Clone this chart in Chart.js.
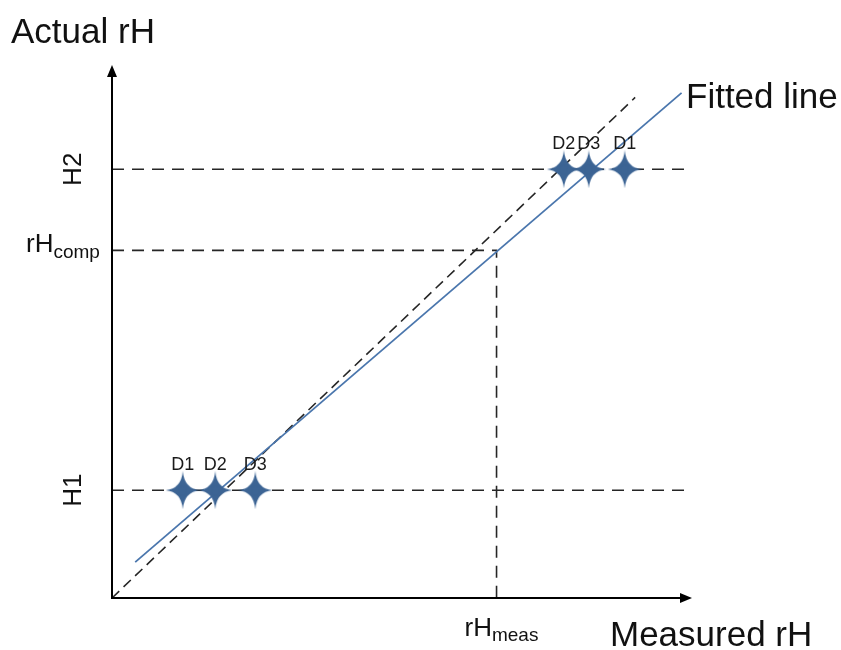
<!DOCTYPE html>
<html>
<head>
<meta charset="utf-8">
<script src="https://cdn.jsdelivr.net/npm/chart.js@4.4.1/dist/chart.umd.min.js"></script>
<style>
  html, body { margin: 0; padding: 0; background: #fff; }
  #wrap { width: 841px; height: 650px; }
</style>
</head>
<body>
<div id="wrap"><canvas id="rhChart" width="841" height="650"></canvas></div>
<script>
// ── Values (arbitrary rH units) ───────────────────────────────────────
const X_MAX = 100, Y_MAX = 92;
const H1 = 18.6, H2 = 74;
const RH_COMP = 60, RH_MEAS = 66.3;

const idealX = [0, 90.2];
const idealY = [0, 86.4];
const fitX = [4.0, 98.2];
const fitY = [6.2, 87.2];

const pointLabels = ['D1', 'D2', 'D3'];
const measuredAtH2 = [88.4, 77.9, 82.2];
const measuredAtH1 = [12.2, 17.8, 24.7];

const FONT = '"Liberation Sans", Arial, Helvetica, sans-serif';
const BLUE = '#4a76ad';
const STAR = '#3c6494';
const DASH = '#262626';

const pts = (xs, ys) => xs.map((x, i) => ({ x, y: ys[i] }));

// 4-point concave star used as the marker image
function makeStar(w, h, color) {
  const c = document.createElement('canvas');
  c.width = w; c.height = h;
  const g = c.getContext('2d');
  const cx = w / 2, cy = h / 2, k = 1.6;
  g.fillStyle = color;
  g.beginPath();
  g.moveTo(cx, 0);
  g.quadraticCurveTo(cx + k, cy - k, w, cy);
  g.quadraticCurveTo(cx + k, cy + k, cx, h);
  g.quadraticCurveTo(cx - k, cy + k, 0, cy);
  g.quadraticCurveTo(cx - k, cy - k, cx, 0);
  g.closePath();
  g.fill();
  // small soft body in the middle
  g.beginPath();
  g.ellipse(cx, cy, 4, 4.5, 0, 0, Math.PI * 2);
  g.fill();
  return c;
}
const starImg = makeStar(34, 38, STAR);

// ── Axes with arrows + all annotations ───────────────────────────────
const annotate = {
  id: 'annotate',
  afterDatasetsDraw(chart) {
    const { ctx, scales: { x, y } } = chart;
    const x0 = x.getPixelForValue(0), y0 = y.getPixelForValue(0);
    const xe = x.getPixelForValue(X_MAX), ye = y.getPixelForValue(Y_MAX);
    ctx.save();
    ctx.strokeStyle = '#000';
    ctx.fillStyle = '#000';
    ctx.lineWidth = 2;
    ctx.setLineDash([]);
    ctx.beginPath();
    ctx.moveTo(x0, ye + 8); ctx.lineTo(x0, y0); ctx.lineTo(xe - 8, y0);
    ctx.stroke();
    // arrow heads
    ctx.beginPath();
    ctx.moveTo(x0, ye); ctx.lineTo(x0 - 5, ye + 12); ctx.lineTo(x0 + 5, ye + 12); ctx.closePath();
    ctx.fill();
    ctx.beginPath();
    ctx.moveTo(xe, y0); ctx.lineTo(xe - 12, y0 - 5); ctx.lineTo(xe - 12, y0 + 5); ctx.closePath();
    ctx.fill();

    // point labels
    ctx.fillStyle = '#1a1a1a';
    ctx.font = '18px ' + FONT;
    ctx.textAlign = 'center';
    ctx.textBaseline = 'alphabetic';
    [0, 1].forEach(di => {
      chart.getDatasetMeta(di).data.forEach((p, i) => {
        ctx.fillText(pointLabels[i], p.x, p.y - 20);
      });
    });

    // axis titles
    ctx.fillStyle = '#111';
    ctx.textAlign = 'left';
    ctx.font = '35px ' + FONT;
    ctx.fillText('Actual rH', 11, 43);
    ctx.fillText('Measured rH', 610, 646);
    ctx.fillText('Fitted line', 686, 108);

    // H1 / H2 (rotated)
    ctx.font = '26px ' + FONT;
    ctx.textAlign = 'center';
    ctx.textBaseline = 'middle';
    [['H2', H2], ['H1', H1]].forEach(([t, v]) => {
      ctx.save();
      ctx.translate(74, y.getPixelForValue(v));
      ctx.rotate(-Math.PI / 2);
      ctx.fillText(t, 0, 0);
      ctx.restore();
    });

    // rH_comp / rH_meas with subscripts
    ctx.textAlign = 'left';
    ctx.textBaseline = 'alphabetic';
    const yc = y.getPixelForValue(RH_COMP);
    ctx.font = '26px ' + FONT;
    ctx.fillText('rH', 26, yc + 2);
    let w = ctx.measureText('rH').width;
    ctx.font = '19px ' + FONT;
    ctx.fillText('comp', 26 + w, yc + 8);

    const xm = x.getPixelForValue(RH_MEAS);
    ctx.font = '26px ' + FONT;
    ctx.fillText('rH', xm - 32, 636);
    w = ctx.measureText('rH').width;
    ctx.font = '19px ' + FONT;
    ctx.fillText('meas', xm - 32 + w, 641);
    ctx.restore();
  }
};

const dashLine = (data, dash) => ({
  type: 'scatter', data, showLine: true, borderColor: DASH, borderWidth: 1.6,
  borderDash: dash, pointRadius: 0, order: 2
});

new Chart(document.getElementById('rhChart'), {
  type: 'scatter',
  data: {
    datasets: [
      { data: measuredAtH2.map(v => ({ x: v, y: H2 })), pointStyle: starImg, pointRadius: 8, order: 0 },
      { data: measuredAtH1.map(v => ({ x: v, y: H1 })), pointStyle: starImg, pointRadius: 8, order: 0 },
      { data: pts(fitX, fitY), showLine: true, borderColor: BLUE, borderWidth: 1.8, pointRadius: 0, order: 1 },
      dashLine(pts(idealX, idealY), [10, 6]),
      dashLine([{ x: 0, y: H2 }, { x: X_MAX, y: H2 }], [12, 8]),
      dashLine([{ x: 0, y: H1 }, { x: X_MAX, y: H1 }], [12, 8]),
      dashLine([{ x: 0, y: RH_COMP }, { x: RH_MEAS, y: RH_COMP }, { x: RH_MEAS, y: 0 }], [12, 8]),
    ]
  },
  options: {
    responsive: false,
    animation: false,
    events: [],
    layout: { padding: { left: 112, right: 149, top: 65, bottom: 52 } },
    plugins: { legend: { display: false }, tooltip: { enabled: false } },
    scales: {
      x: { type: 'linear', min: 0, max: X_MAX, display: false },
      y: { type: 'linear', min: 0, max: Y_MAX, display: false }
    }
  },
  plugins: [annotate]
});
</script>
</body>
</html>
